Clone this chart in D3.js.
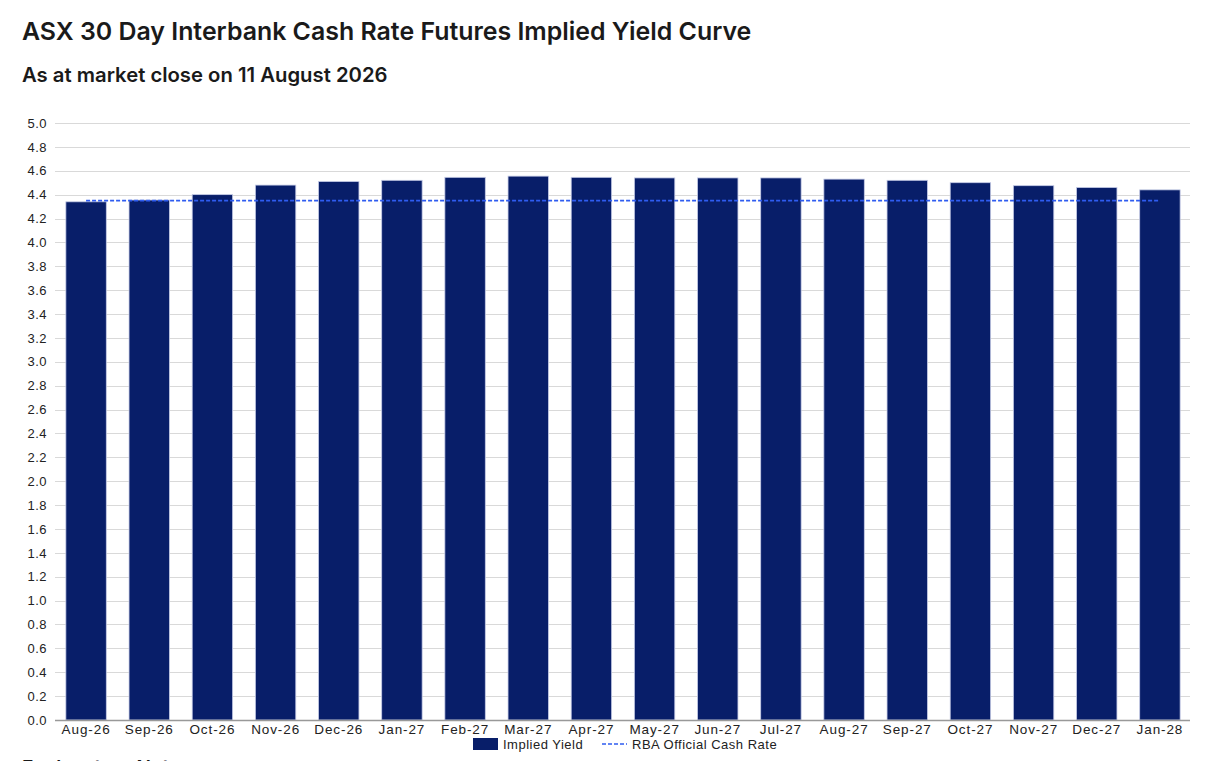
<!DOCTYPE html>
<html><head><meta charset="utf-8">
<script src="https://cdn.jsdelivr.net/npm/d3@7"></script>
<style>
body{margin:0;background:#fff;}
svg{display:block;}
</style></head>
<body>
<script>
const categories = ["Aug-26","Sep-26","Oct-26","Nov-26","Dec-26","Jan-27","Feb-27","Mar-27","Apr-27","May-27","Jun-27","Jul-27","Aug-27","Sep-27","Oct-27","Nov-27","Dec-27","Jan-28"];
const impliedYield = [4.34,4.355,4.40,4.48,4.51,4.52,4.545,4.555,4.545,4.54,4.54,4.54,4.53,4.52,4.50,4.475,4.46,4.44];
const rbaRate = 4.35;
const yTicks = d3.range(0, 5.0001, 0.2);
const title = "ASX 30 Day Interbank Cash Rate Futures Implied Yield Curve";
const subtitle = "As at market close on 11 August 2026";
const legendLabels = ["Implied Yield","RBA Official Cash Rate"];

const W = 1216, H = 761;
const svg = d3.select("body").append("svg").attr("width", W).attr("height", H);

svg.append("text").attr("x", 22).attr("y", 40)
  .attr("font-family", "Inter, 'Noto Sans', sans-serif").attr("font-weight", 600)
  .attr("font-size", 24.9).attr("fill", "#1a1a1a").text(title);
svg.append("text").attr("x", 22).attr("y", 82)
  .attr("font-family", "Inter, 'Noto Sans', sans-serif").attr("font-weight", 600)
  .attr("font-size", 20.3).attr("fill", "#1a1a1a").text(subtitle);

const x = d3.scaleBand().domain(categories).range([54.5, 1191.5]).paddingInner(0.36).paddingOuter(0.18);
const y = d3.scaleLinear().domain([0, 5]).range([720, 123]);

// gridlines
svg.append("g").selectAll("line").data(yTicks.filter(d => d > 0.001)).join("line")
  .attr("x1", 55).attr("x2", 1190)
  .attr("y1", d => Math.round(y(d)) + 0.5).attr("y2", d => Math.round(y(d)) + 0.5)
  .attr("stroke", "#d9d9d9").attr("stroke-width", 1);

// y labels
const yAxis = d3.axisLeft(y).tickValues(yTicks).tickFormat(d3.format(".1f")).tickSize(0).tickPadding(8);
const gy = svg.append("g").attr("transform", "translate(55,0)").call(yAxis);
gy.select(".domain").remove();
gy.selectAll("text").attr("font-family", "'Liberation Sans', Arial, sans-serif").attr("font-size", 13).attr("letter-spacing", 0.5).attr("fill", "#222");

// bars
svg.append("g").selectAll("rect").data(categories).join("rect")
  .attr("x", d => x(d)).attr("width", x.bandwidth())
  .attr("y", (d, i) => y(impliedYield[i])).attr("height", (d, i) => y(0) - y(impliedYield[i]))
  .attr("fill", "#081e69").attr("stroke", "#c5cbe6").attr("stroke-width", 0.8);

// RBA line
svg.append("line")
  .attr("x1", x(categories[0]) + x.bandwidth() / 2)
  .attr("x2", x(categories[categories.length - 1]) + x.bandwidth() / 2)
  .attr("y1", y(rbaRate)).attr("y2", y(rbaRate))
  .attr("stroke", "#2f5cf0").attr("stroke-width", 1.6).attr("stroke-dasharray", "4,2");

// x axis
const xAxis = d3.axisBottom(x).tickSize(0).tickPadding(4);
const gx = svg.append("g").attr("transform", "translate(0,720)").call(xAxis);
gx.select(".domain").attr("d", "M55,0.5H1190").attr("stroke", "#999").attr("stroke-width", 1.5);
gx.selectAll("text").attr("font-family", "'Liberation Sans', Arial, sans-serif").attr("font-size", 13.5).attr("fill", "#222").attr("letter-spacing", 0.9);

// legend
const lg = svg.append("g").attr("font-family", "'Liberation Sans', Arial, sans-serif").attr("font-size", 13).attr("letter-spacing", 0.5).attr("fill", "#222");
lg.append("rect").attr("x", 473).attr("y", 738).attr("width", 25).attr("height", 12).attr("fill", "#081e69");
lg.append("text").attr("x", 503).attr("y", 749).text(legendLabels[0]);
lg.append("line").attr("x1", 602).attr("x2", 627).attr("y1", 744).attr("y2", 744)
  .attr("stroke", "#2f5cf0").attr("stroke-width", 1.6).attr("stroke-dasharray", "4,2");
lg.append("text").attr("x", 632).attr("y", 749).text(legendLabels[1]);

// cut-off notes heading (clipped at the bottom as in the reference)
svg.append("text").attr("x", 22).attr("y", 774)
  .attr("font-family", "Inter, 'Noto Sans', sans-serif").attr("font-weight", 600)
  .attr("font-size", 19).attr("fill", "#1a1a1a").text("Explanatory Notes");
</script>
</body></html>
